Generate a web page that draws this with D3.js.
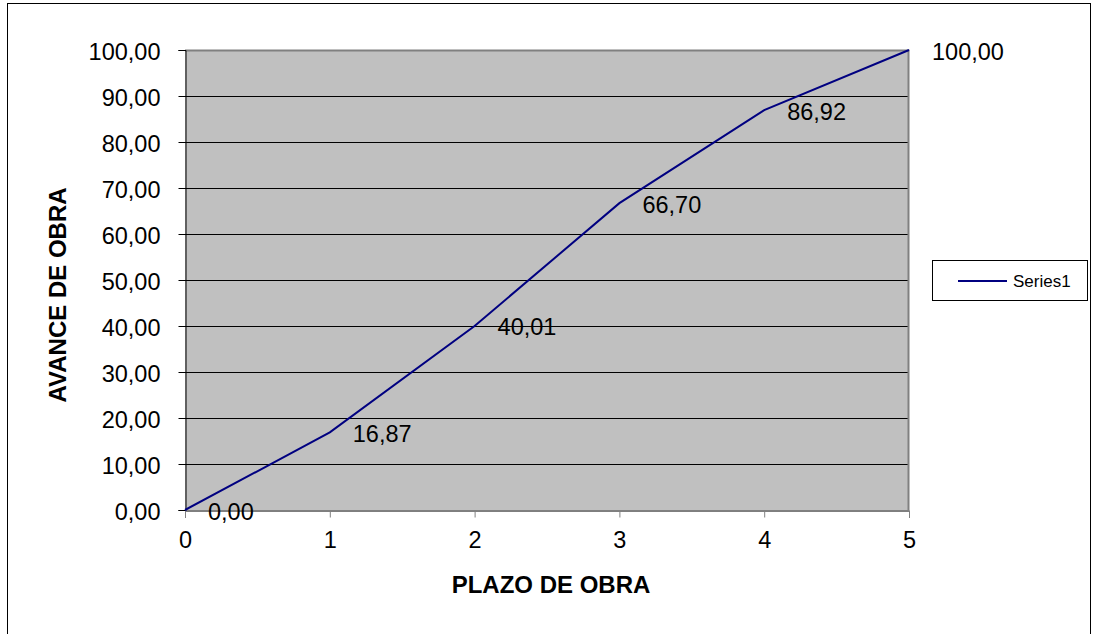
<!DOCTYPE html>
<html><head><meta charset="utf-8">
<script src="https://cdn.jsdelivr.net/npm/d3@7"></script>
<style>body{margin:0;background:#fff}svg{display:block}text{font-family:"Liberation Sans",Arial,sans-serif}</style>
</head><body>
<script>
const plazo = [0, 1, 2, 3, 4, 5];
const avance = [0.00, 16.87, 40.01, 66.70, 86.92, 100.00];
const yTicks = [0, 10, 20, 30, 40, 50, 60, 70, 80, 90, 100];
const xTicks = [0, 1, 2, 3, 4, 5];
const seriesName = "Series1";

const W = 1097, H = 634;
const svg = d3.select("body").append("svg").attr("width", W).attr("height", H);
const L = 185, R = 909, T = 50, B = 510;
const x = d3.scaleLinear().domain([0, 5]).range([L, R]);
const y = d3.scaleLinear().domain([0, 100]).range([B, T]);
const fmt = v => d3.format(".2f")(v).replace(".", ",");

// outer border
svg.append("rect").attr("x", 7.5).attr("y", 3.5).attr("width", 1083).attr("height", 700)
  .attr("fill", "none").attr("stroke", "#000").attr("stroke-width", 1);

// plot background
svg.append("rect").attr("x", L).attr("y", T).attr("width", R - L).attr("height", B - T).attr("fill", "#c0c0c0");

// gridlines
svg.append("g").selectAll("line").data(yTicks.filter(d => d > 0 && d < 100)).join("line")
  .attr("x1", L).attr("x2", R).attr("y1", d => Math.round(y(d)) + 0.5).attr("y2", d => Math.round(y(d)) + 0.5)
  .attr("stroke", "#000").attr("stroke-width", 1);

// plot border top/right
svg.append("path").attr("d", `M${L},${T + 0.5}H${R - 0.5}V${B}`).attr("fill", "none").attr("stroke", "#808080").attr("stroke-width", 2);

// y axis
const yAxis = svg.append("g").attr("transform", `translate(${L + 0.5},0)`)
  .call(d3.axisLeft(y).tickValues(yTicks).tickSize(7).tickPadding(18).tickFormat(fmt));
yAxis.select(".domain").attr("stroke", "#000");
yAxis.selectAll("line").attr("stroke", "#000");
yAxis.selectAll("text").attr("font-size", 23.5).attr("fill", "#000").attr("dy", "0.39em");

// x axis
const xAxis = svg.append("g").attr("transform", `translate(0,${B + 0.5})`)
  .call(d3.axisBottom(x).tickValues(xTicks).tickSize(7).tickPadding(14).tickFormat(d3.format("d")));
xAxis.select(".domain").attr("stroke", "#000");
xAxis.selectAll("line").attr("stroke", "#808080");
xAxis.selectAll("text").attr("font-size", 23.5).attr("fill", "#000");

// line
const pts = plazo.map((p, i) => [p, avance[i]]);
svg.append("path").datum(pts)
  .attr("d", d3.line().x(d => x(d[0])).y(d => y(d[1])))
  .attr("fill", "none").attr("stroke", "#000080").attr("stroke-width", 2);

// data labels
svg.append("g").selectAll("text").data(pts).join("text")
  .attr("x", d => x(d[0]) + 23).attr("y", d => y(d[1]) + 9.5)
  .attr("font-size", 23.5).attr("fill", "#000").text(d => fmt(d[1]));

// axis titles
svg.append("text").attr("transform", "translate(66,295) rotate(-90)").attr("text-anchor", "middle")
  .attr("font-size", 24).attr("font-weight", "bold").text("AVANCE DE OBRA");
svg.append("text").attr("x", 551).attr("y", 593).attr("text-anchor", "middle")
  .attr("font-size", 24).attr("font-weight", "bold").text("PLAZO DE OBRA");

// legend
svg.append("rect").attr("x", 932.5).attr("y", 260.5).attr("width", 155).attr("height", 40)
  .attr("fill", "#fff").attr("stroke", "#000").attr("stroke-width", 1);
svg.append("line").attr("x1", 958).attr("x2", 1007).attr("y1", 281).attr("y2", 281)
  .attr("stroke", "#000080").attr("stroke-width", 2);
svg.append("text").attr("x", 1013).attr("y", 287).attr("font-size", 17).text(seriesName);
</script>
</body></html>
